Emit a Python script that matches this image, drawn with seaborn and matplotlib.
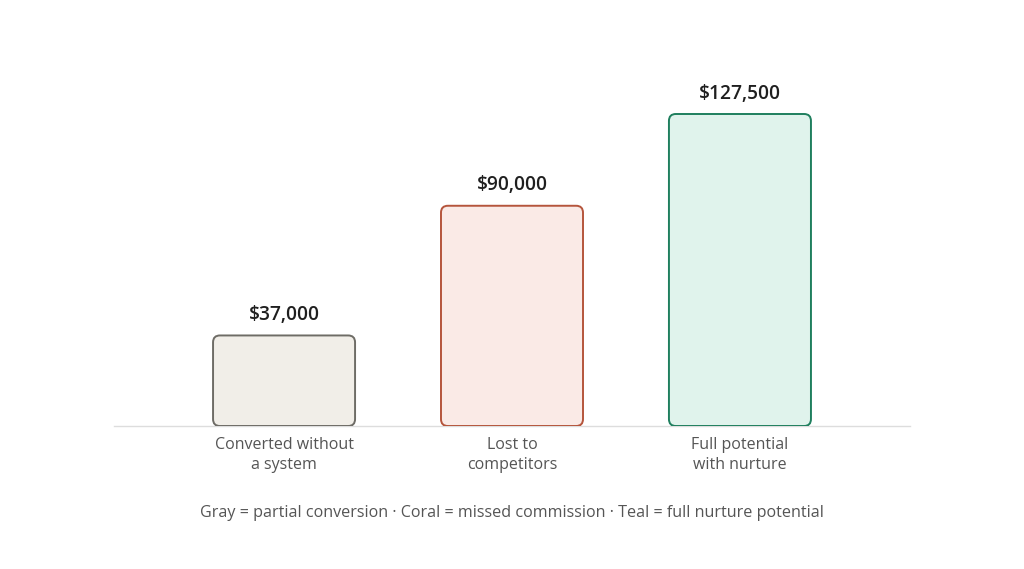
import pandas as pd
import matplotlib
matplotlib.use('Agg')
import matplotlib.pyplot as plt
import seaborn as sns
from matplotlib.patches import FancyBboxPatch

# Daten
categories = ['Converted without\na system', 'Lost to\ncompetitors', 'Full potential\nwith nurture']
values = [37000, 90000, 127500]
value_labels = ['$37,000', '$90,000', '$127,500']
fill_colors = ['#F1EEE8', '#FAEAE6', '#E0F3EC']
edge_colors = ['#6E6C66', '#B5553C', '#1F7F5E']
footer = 'Gray = partial conversion \u00b7 Coral = missed commission \u00b7 Teal = full nurture potential'

sns.set_theme(style='white')
plt.rcParams['font.family'] = ['Open Sans', 'DejaVu Sans']

df = pd.DataFrame({'kategorie': categories, 'wert': values})

fig = plt.figure(figsize=(10.24, 5.69), dpi=100)
ax = fig.add_axes([114 / 1024, (569 - 426) / 569, 796 / 1024, 367.06 / 569])

sns.barplot(data=df, x='kategorie', y='wert', ax=ax, width=0.623, color='white')

# Balken durch abgerundete Rechtecke ersetzen
for bar, fc, ec in zip(list(ax.patches), fill_colors, edge_colors):
    x, y = bar.get_x(), bar.get_y()
    w, h = bar.get_width(), bar.get_height()
    bar.remove()
    rund = FancyBboxPatch((x, y), w, h,
                          boxstyle='round,pad=0,rounding_size=0.03',
                          mutation_aspect=94000,
                          facecolor=fc, edgecolor=ec, linewidth=1.4, zorder=3)
    ax.add_patch(rund)

for i, (v, lab) in enumerate(zip(values, value_labels)):
    ax.annotate(lab, (i, v), xytext=(0, 7.5), textcoords='offset points',
                ha='center', va='bottom', fontsize=13.8, fontweight='semibold', color='#1f1f1f')

ax.set_xlim(-0.746, 2.746)
ax.set_ylim(0, 150000)
ax.set_xlabel('')
ax.set_ylabel('')
ax.set_yticks([])
ax.tick_params(axis='x', length=0, pad=8, labelsize=11.5, labelcolor='#555555')
for t in ax.get_xticklabels():
    t.set_linespacing(1.3)
for s in ['left', 'right', 'top']:
    ax.spines[s].set_visible(False)
ax.spines['bottom'].set_color('#dddddd')
ax.spines['bottom'].set_linewidth(1)
ax.spines['bottom'].set_zorder(1)

fig.text(512 / 1024, 1 - 513 / 569, footer, ha='center', va='center', fontsize=11.6, color='#555555')

fig.savefig('out.png', dpi=100, facecolor='white')
